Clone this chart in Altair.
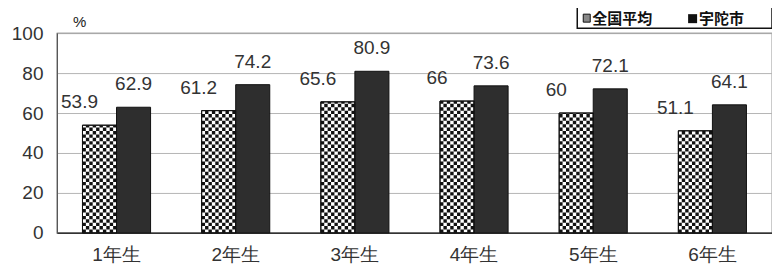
import altair as alt
import pandas as pd

grades = ["1年生", "2年生", "3年生", "4年生", "5年生", "6年生"]
series = ["全国平均", "宇陀市"]
national = [53.9, 61.2, 65.6, 66, 60, 51.1]
uda = [62.9, 74.2, 80.9, 73.6, 72.1, 64.1]
y_ticks = [0, 20, 40, 60, 80, 100]

rows = []
for g, n, u in zip(grades, national, uda):
    rows.append({"grade": g, "series": series[0], "value": n, "zero": 0})
    rows.append({"grade": g, "series": series[1], "value": u, "zero": 0})
df = pd.DataFrame(rows)

W, H = 716, 200
FONT = "Liberation Sans"

xscale = alt.Scale(domain=grades, paddingInner=0.4286, paddingOuter=0.2143)
yscale = alt.Scale(domain=[0, 100], nice=False)

x_axis = alt.Axis(title=None, labelAngle=0, labelFontSize=19, labelFont=FONT,
                  labelColor="#333", labelPadding=13, ticks=False,
                  domainColor="#333", domainWidth=1.5)
y_axis = alt.Axis(title=None, values=y_ticks, tickCount=6, labelFontSize=19, labelFont=FONT,
                  labelColor="#333", labelPadding=14, ticks=False, labelOverlap=False,
                  domainColor="#555", gridColor="#b5b5b5", gridWidth=1)


def X(**kw):
    return alt.X("grade:N", scale=xscale, sort=grades, axis=x_axis, **kw)


def Y(field="value:Q"):
    return alt.Y(field, scale=yscale, axis=y_axis)


xoff = alt.XOffset("series:N", scale=alt.Scale(domain=series, paddingInner=0, paddingOuter=0))

base = alt.Chart(df)

bars = base.mark_bar(stroke="#111", strokeWidth=1).encode(
    x=X(), y=Y(), xOffset=xoff,
    fill=alt.Fill("series:N", scale=alt.Scale(domain=series, range=["#ffffff", "#2e2e2e"]), legend=None),
)

nat = base.transform_filter(alt.datum.series == series[0])
cell = 3.4
checks = []
for k in range(10):
    checks.append(
        nat.mark_rule(color="#111", strokeWidth=cell, strokeDash=[cell, cell],
                      strokeDashOffset=(0 if k % 2 == 0 else cell), strokeCap="butt").encode(
            x=X(bandPosition=(k + 0.5) / 20),
            y=Y("zero:Q"),
            y2="value:Q",
        )
    )

nat_outline = nat.mark_bar(fill=None, stroke="#111", strokeWidth=1).encode(
    x=X(), y=Y(), xOffset=xoff)

lab_nat = nat.mark_text(fontSize=19, font=FONT, color="#333", baseline="bottom", dy=-13, dx=-20).encode(
    x=X(), y=Y(), xOffset=xoff, text=alt.Text("value:Q"))
lab_uda = base.transform_filter(alt.datum.series == series[1]).mark_text(
    fontSize=19, font=FONT, color="#333", baseline="bottom", dy=-13).encode(
    x=X(), y=Y(), xOffset=xoff, text=alt.Text("value:Q"))

pct = alt.Chart(pd.DataFrame({"t": ["%"]})).mark_text(
    fontSize=15, font=FONT, color="#222", align="left", baseline="middle").encode(
    x=alt.value(16), y=alt.value(-11), text="t:N")

leg_df = pd.DataFrame({"t": ["x"]})
leg_box = alt.Chart(leg_df).mark_rect(fill="white", stroke="#111", strokeWidth=1.5).encode(
    x=alt.value(521), x2=alt.value(716), y=alt.value(-26), y2=alt.value(-5))
leg_sym1 = alt.Chart(leg_df).mark_rect(fill="#888", stroke="#111", strokeWidth=1).encode(
    x=alt.value(527), x2=alt.value(534), y=alt.value(-19), y2=alt.value(-11))
leg_sym2 = alt.Chart(leg_df).mark_rect(fill="#111").encode(
    x=alt.value(632), x2=alt.value(641), y=alt.value(-19), y2=alt.value(-10))
leg_t1 = alt.Chart(pd.DataFrame({"t": [series[0]]})).mark_text(
    fontSize=15, font="Noto Sans CJK JP", fontWeight="bold", color="#111", align="left", baseline="middle").encode(
    x=alt.value(536), y=alt.value(-14), text="t:N")
leg_t2 = alt.Chart(pd.DataFrame({"t": [series[1]]})).mark_text(
    fontSize=15, font="Noto Sans CJK JP", fontWeight="bold", color="#111", align="left", baseline="middle").encode(
    x=alt.value(643), y=alt.value(-14), text="t:N")

chart = alt.layer(bars, *checks, nat_outline, lab_nat, lab_uda, pct,
                  leg_box, leg_sym1, leg_sym2, leg_t1, leg_t2).properties(
    width=W, height=H,
    autosize=alt.AutoSizeParams(type="none"),
    padding={"left": 49, "top": 25, "right": 0, "bottom": 33},
    background="white",
).configure_view(stroke="#555", strokeWidth=1.2)

chart.save("out.html", embed_options={"renderer": "svg", "actions": False})
